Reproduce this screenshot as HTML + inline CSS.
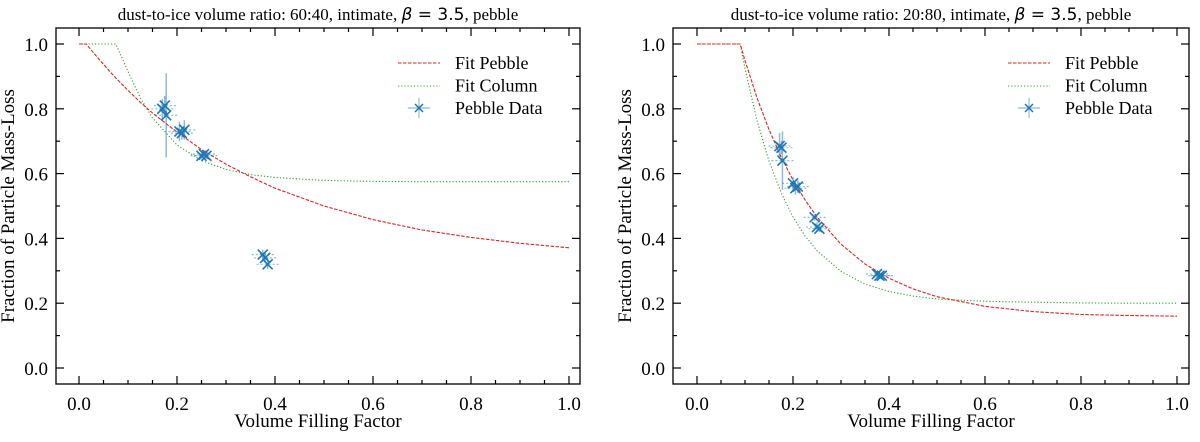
<!DOCTYPE html>
<html><head><meta charset="utf-8"><style>
body{margin:0;background:#fff;}
text{font-family:"Liberation Serif","Times New Roman",Times,"Noto Serif CJK SC","DejaVu Serif",serif;fill:#000;}
</style></head><body>
<svg id="c" width="1200" height="437" xmlns="http://www.w3.org/2000/svg"></svg>
<script>
const xs=[0,0.015,0.025,0.05,0.075,0.1,0.125,0.15,0.2,0.25,0.3,0.35,0.4,0.5,0.6,0.7,0.8,0.9,1.0];
const leftPebble=[1,1,0.981,0.937,0.895,0.857,0.82,0.787,0.728,0.674,0.629,0.590,0.555,0.500,0.458,0.426,0.403,0.385,0.371];
const leftColumn=[1,1,1,1,1,0.915,0.834,0.772,0.688,0.640,0.613,0.597,0.588,0.579,0.576,0.575,0.575,0.575,0.575];
const xsR=[0,0.05,0.09,0.1,0.125,0.15,0.175,0.2,0.225,0.25,0.3,0.35,0.4,0.45,0.5,0.6,0.7,0.8,0.9,1.0];
const rightPebble=[1,1,1,0.949,0.834,0.736,0.652,0.580,0.519,0.466,0.382,0.321,0.277,0.244,0.220,0.190,0.174,0.165,0.162,0.16];
const rightColumn=[1,1,1,0.924,0.764,0.639,0.542,0.466,0.408,0.362,0.298,0.259,0.236,0.222,0.213,0.206,0.203,0.201,0.200,0.2];
const leftDataX=[0.170,0.175,0.178,0.205,0.210,0.215,0.250,0.255,0.260,0.375,0.380,0.385];
const leftDataY=[0.80,0.81,0.78,0.73,0.725,0.735,0.655,0.66,0.655,0.35,0.34,0.32];
const leftDataErr=[0.03,0.03,0.13,0.03,0.02,0.03,0.01,0.01,0.01,0.015,0.015,0.015];
const rightDataX=[0.172,0.176,0.178,0.200,0.205,0.210,0.245,0.250,0.255,0.375,0.380,0.385];
const rightDataY=[0.685,0.68,0.64,0.57,0.555,0.56,0.465,0.435,0.43,0.29,0.285,0.285];
const rightDataErr=[0.04,0.02,0.09,0.02,0.02,0.02,0.01,0.015,0.01,0.01,0.01,0.01];
const xTicks=["0.0","0.2","0.4","0.6","0.8","1.0"];
const yTicks=["0.0","0.2","0.4","0.6","0.8","1.0"];
const NS="http://www.w3.org/2000/svg";
const svg=document.getElementById('c');
function mk(tag,attrs,parent){const e=document.createElementNS(NS,tag);for(const k in attrs)e.setAttribute(k,attrs[k]);(parent||svg).appendChild(e);return e;}
function panel(p){
 const g=mk('g',{});
 
 
 const X=v=>p.x0+v*p.sx, Y=v=>p.y0-v*324;
 const L=p.L,R=p.R,T=28,B=384;
 for(let i=0;i<=20;i++){const v=i*0.05;const px=X(v);if(px<L||px>R)continue;const len=i%4==0?8:4;
  mk('line',{x1:px,x2:px,y1:B,y2:B-len,stroke:'#000','stroke-width':1.2},g);
  mk('line',{x1:px,x2:px,y1:T,y2:T+len,stroke:'#000','stroke-width':1.2},g);}
 for(let i=-1;i<=10;i++){const v=i*0.1;const py=Y(v);if(py<T||py>B)continue;const len=i%2==0?8:4;
  mk('line',{x1:L,x2:L+len,y1:py,y2:py,stroke:'#000','stroke-width':1.2},g);
  mk('line',{x1:R,x2:R-len,y1:py,y2:py,stroke:'#000','stroke-width':1.2},g);}
 xTicks.forEach((t,i)=>{const e=mk('text',{x:X(i*0.2),y:B+26,'text-anchor':'middle','font-size':19},g);e.textContent=t;
  });
 yTicks.forEach((t,i)=>{const e=mk('text',{x:L-8,y:Y(i*0.2)+7,'text-anchor':'end','font-size':19},g);e.textContent=t;
  });
 const path=(xa,ya)=>xa.map((x,i)=>(i?'L':'M')+X(x).toFixed(1)+','+Y(ya[i]).toFixed(1)).join(' ');
 const c1=mk('path',{d:path(p.cx,p.col),fill:'none',stroke:'#2ca02c','stroke-width':1.1,'stroke-dasharray':'1.2,2'},g);
 
 const c2=mk('path',{d:path(p.cx,p.peb),fill:'none',stroke:'#d62728','stroke-width':1.1,'stroke-dasharray':'3.5,1.5'},g);
 
 p.dx.forEach((dx,i)=>{const cx=X(dx),cy=Y(p.dy[i]);const e=p.de[i]*324;const pg=mk('g',{},g);
  
  mk('line',{x1:cx,x2:cx,y1:cy-e,y2:cy+e,stroke:'#1f77b4','stroke-opacity':0.5,'stroke-width':1.5},pg);
  mk('line',{x1:cx-11,x2:cx+11,y1:cy,y2:cy,stroke:'#1f77b4','stroke-opacity':0.5,'stroke-width':1.2,'stroke-dasharray':'2,2'},pg);
  mk('line',{x1:cx-5,x2:cx+5,y1:cy-5,y2:cy+5,stroke:'#1f77b4','stroke-width':1.6},pg);
  mk('line',{x1:cx-5,x2:cx+5,y1:cy+5,y2:cy-5,stroke:'#1f77b4','stroke-width':1.6},pg);});
 mk('rect',{x:L,y:T,width:R-L,height:B-T,fill:'none',stroke:'#000','stroke-width':1.3},g);
 const tt=mk('text',{x:(L+R)/2,y:20,'text-anchor':'middle','font-size':17},g);
 tt.innerHTML=p.title+', <tspan style="font-family:\'DejaVu Sans\',sans-serif;font-style:italic">β</tspan><tspan style="font-family:\'DejaVu Sans\',sans-serif"> = 3.5</tspan>, pebble';
 
 const xl=mk('text',{x:(L+R)/2,y:427,'text-anchor':'middle','font-size':19},g);xl.textContent='Volume Filling Factor';
 
 const yx=L-42, yy=(T+B)/2;
 const yl=mk('text',{x:yx,y:yy,'text-anchor':'middle','font-size':19,transform:`rotate(-90 ${yx} ${yy})`},g);yl.textContent='Fraction of Particle Mass-Loss';
 
 const lx=p.lx;const lg=mk('g',{},g);
 mk('line',{x1:lx,x2:lx+42,y1:63,y2:63,stroke:'#d62728','stroke-width':1.1,'stroke-dasharray':'3.5,1.5'},lg);
 mk('line',{x1:lx,x2:lx+42,y1:86,y2:86,stroke:'#2ca02c','stroke-width':1.1,'stroke-dasharray':'1.2,2'},lg);
 const mx=lx+21;
 mk('line',{x1:mx-11,x2:mx+11,y1:108,y2:108,stroke:'#1f77b4','stroke-opacity':0.5,'stroke-width':1.2},lg);
 mk('line',{x1:mx,x2:mx,y1:98,y2:118,stroke:'#1f77b4','stroke-opacity':0.5,'stroke-width':1.2},lg);
 mk('line',{x1:mx-4,x2:mx+4,y1:104,y2:112,stroke:'#1f77b4','stroke-width':1.5},lg);
 mk('line',{x1:mx-4,x2:mx+4,y1:112,y2:104,stroke:'#1f77b4','stroke-width':1.5},lg);
 ['Fit Pebble','Fit Column','Pebble Data'].forEach((t,i)=>{const e=mk('text',{x:lx+57,y:69+i*22.5,'font-size':18},lg);e.textContent=t;
  });
}
panel({name:'left-chart',L:56,R:580,x0:79,sx:490,y0:368,cx:xs,peb:leftPebble,col:leftColumn,dx:leftDataX,dy:leftDataY,de:leftDataErr,title:'dust-to-ice volume ratio: 60:40, intimate',lx:398});
panel({name:'right-chart',L:673,R:1189,x0:697,sx:480,y0:368,cx:xsR,peb:rightPebble,col:rightColumn,dx:rightDataX,dy:rightDataY,de:rightDataErr,title:'dust-to-ice volume ratio: 20:80, intimate',lx:1008});
</script>
</body></html>
